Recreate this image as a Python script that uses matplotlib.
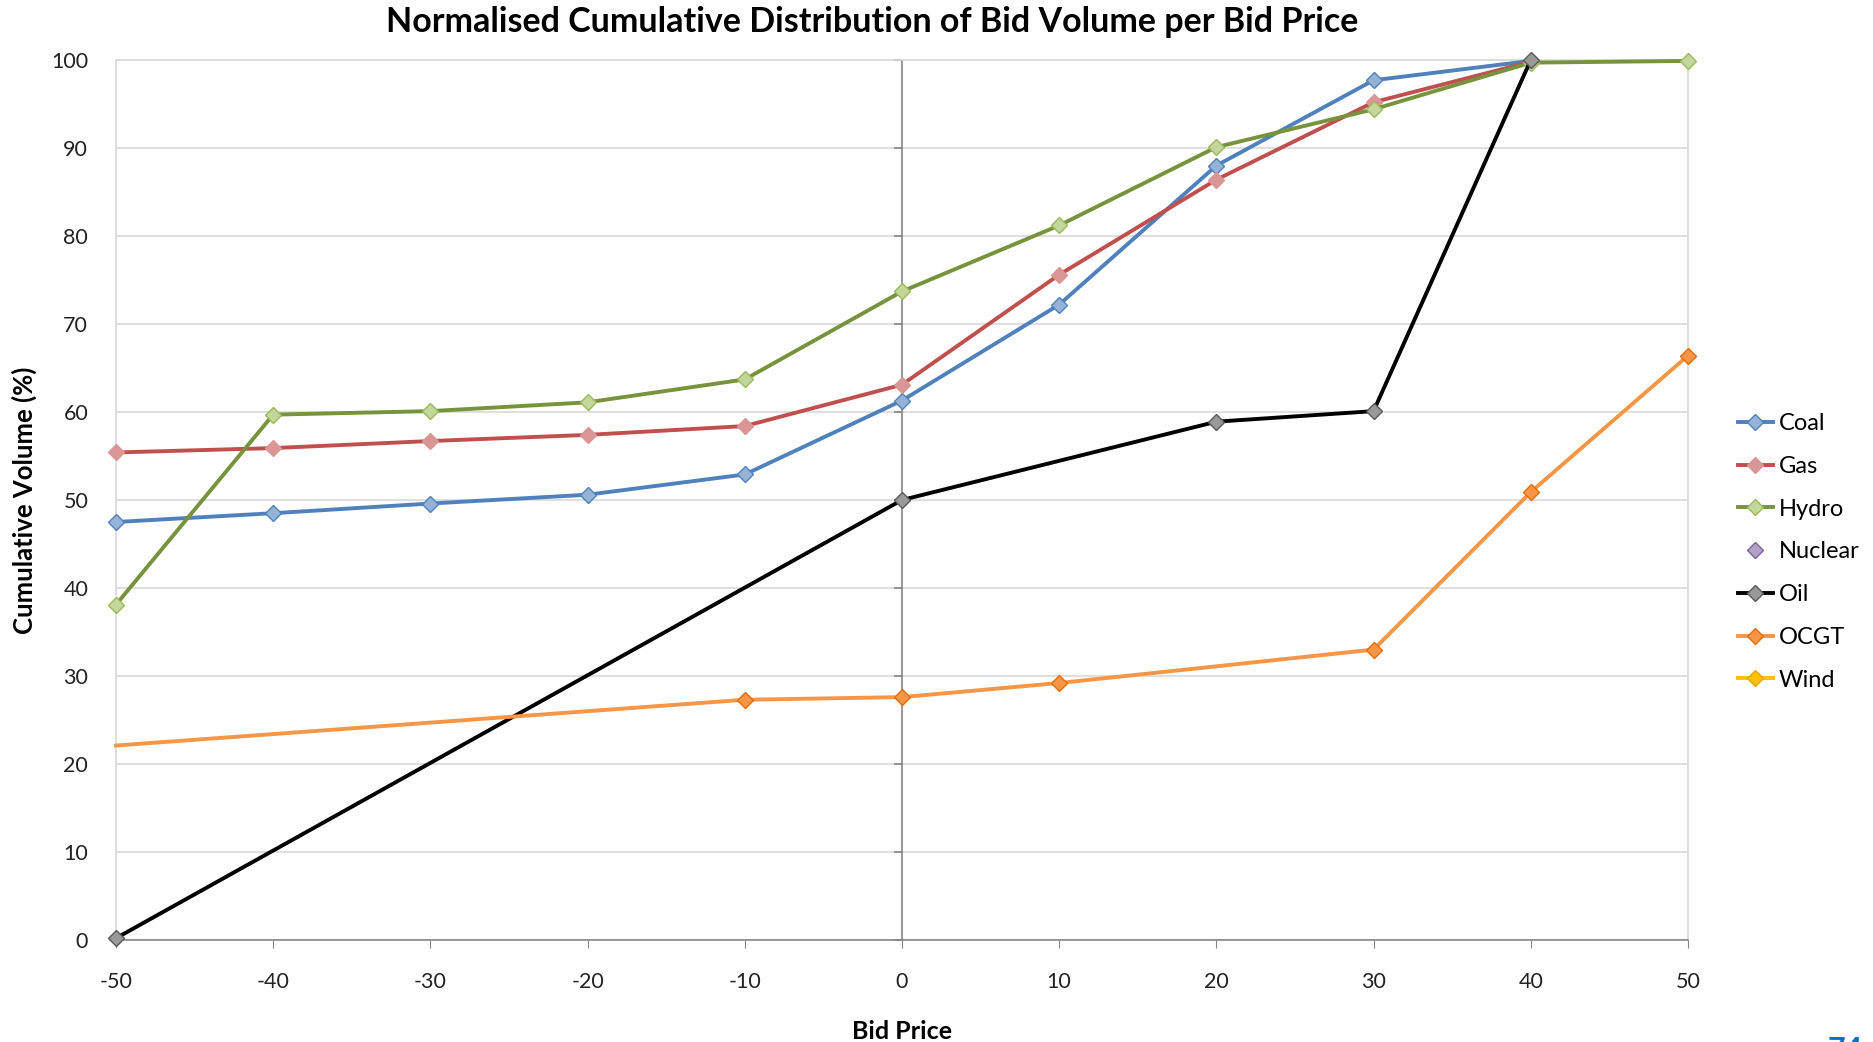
import numpy as np
import matplotlib.pyplot as plt
from matplotlib import markers

plt.rcParams['font.family'] = ['Lato', 'DejaVu Sans']

# bid price buckets
prices = [-50, -40, -30, -20, -10, 0, 10, 20, 30, 40, 50]

coal_x = [-50, -40, -30, -20, -10, 0, 10, 20, 30, 40]
coal_y = [47.5, 48.5, 49.6, 50.6, 52.9, 61.3, 72.2, 88.0, 97.7, 99.9]

gas_x = [-50, -40, -30, -20, -10, 0, 10, 20, 30, 40]
gas_y = [55.4, 55.9, 56.7, 57.4, 58.4, 63.1, 75.6, 86.4, 95.2, 99.8]

hydro_x = [-50, -40, -30, -20, -10, 0, 10, 20, 30, 40, 50]
hydro_y = [38.1, 59.7, 60.1, 61.1, 63.7, 73.7, 81.2, 90.1, 94.4, 99.7, 99.9]

nuclear_x = []
nuclear_y = []

oil_x = [-50, 0, 20, 30, 40]
oil_y = [0.2, 50.0, 58.9, 60.1, 100.0]

ocgt_x = [-50, -10, 0, 10, 30, 40, 50]
ocgt_y = [22.1, 27.3, 27.6, 29.2, 33.0, 50.9, 66.4]

wind_x = []
wind_y = []

yticks = list(range(0, 101, 10))

fig = plt.figure(figsize=(18.73, 10.42), dpi=100)
ax = fig.add_axes([0.0619, 0.0979, 0.9012 - 0.0619, 0.9424 - 0.0979])

grid_c = '#d9d9d9'
axis_c = '#868686'

# series: (label, x, y, line colour, marker face, marker edge, draw line)
series = [
    ('Coal', coal_x, coal_y, '#4f81bd', '#95b3d7', '#4f81bd', True),
    ('Gas', gas_x, gas_y, '#c0504d', '#d99694', '#d99694', True),
    ('Hydro', hydro_x, hydro_y, '#77933c', '#c3d69b', '#9bbb59', True),
    ('Nuclear', nuclear_x, nuclear_y, '#8064a2', '#b3a2c7', '#8064a2', False),
    ('Oil', oil_x, oil_y, '#000000', '#999999', '#595959', True),
    ('OCGT', ocgt_x, ocgt_y, '#f79646', '#f79646', '#e46c0a', True),
    ('Wind', wind_x, wind_y, '#ffc000', '#ffc000', '#e6a800', True),
]

for name, xs, ys, lc, mf, me, line in series:
    mev = None
    if name == 'OCGT':
        mev = list(range(1, len(xs)))
    ax.plot(xs, ys, color=lc, lw=2.8 if line else 0, ls='-' if line else 'none',
            marker='D', markersize=8.5, markerfacecolor=mf, markeredgecolor=me,
            markeredgewidth=1, markevery=mev, label=name, zorder=3, clip_on=False)

ax.set_xlim(-50, 50)
ax.set_ylim(0, 100)
ax.set_xticks(prices)
ax.set_yticks(yticks)
ax.set_xticklabels([str(p) for p in prices])
ax.tick_params(axis='x', length=6, color=axis_c, labelsize=15.5, pad=17, labelcolor='#222222')
ax.tick_params(axis='y', length=0, labelsize=15.5, pad=20, labelcolor='#222222')

ax.grid(axis='y', color=grid_c, lw=1.2)
ax.set_axisbelow(True)
for s in ['left', 'right', 'top']:
    ax.spines[s].set_color(grid_c)
    ax.spines[s].set_linewidth(1.2)
ax.spines['bottom'].set_color(axis_c)
ax.spines['bottom'].set_linewidth(1.2)

# value axis crosses at 0
ax.axvline(0, color=axis_c, lw=1.2, zorder=1)
ax.plot([0] * len(yticks), yticks, ls='none', marker=markers.TICKLEFT,
        markersize=6, color=axis_c, mew=1.2, zorder=1, clip_on=False)

ax.set_xlabel('Bid Price', fontsize=18, fontweight='bold', labelpad=20)
ax.set_ylabel('Cumulative Volume (%)', fontsize=18.5, fontweight='bold', labelpad=10)

fig.text(0.4656, 0.979, 'Normalised Cumulative Distribution of Bid Volume per Bid Price',
         ha='center', va='center', fontsize=24.5, fontweight='bold')

leg = ax.legend(loc='center left', bbox_to_anchor=(1.0, 0.441), frameon=False,
                fontsize=17, handlelength=1.5, labelspacing=0.92, handletextpad=0.25,
                borderaxespad=1.7)

fig.text(0.976, 0.006, '74', color='#0070c0', fontsize=22, fontweight='bold',
         ha='left', va='top')

plt.savefig('out.png', dpi=100)
